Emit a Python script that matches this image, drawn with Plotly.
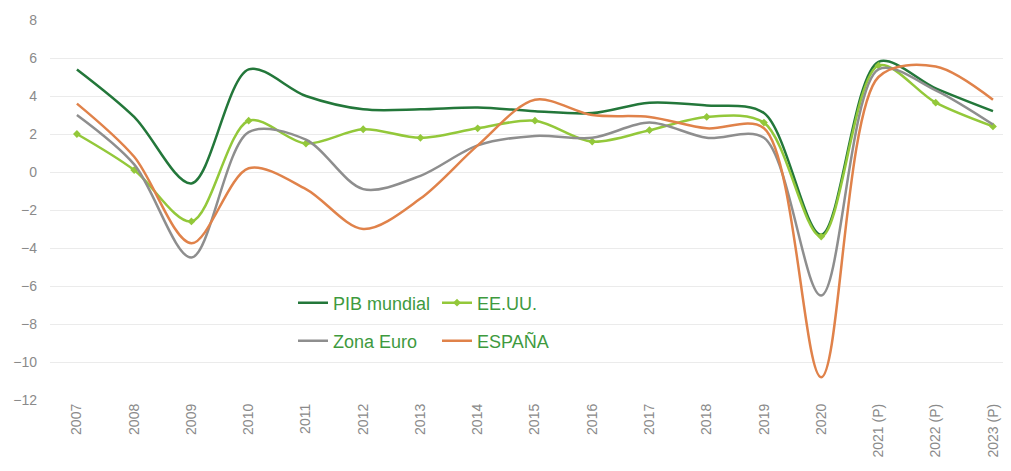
import plotly.graph_objects as go

years = ["2007", "2008", "2009", "2010", "2011", "2012", "2013", "2014", "2015",
         "2016", "2017", "2018", "2019", "2020", "2021 (P)", "2022 (P)", "2023 (P)"]
pib_mundial = [5.4, 2.9, -0.6, 5.4, 4.0, 3.3, 3.3, 3.4, 3.2, 3.1, 3.65, 3.5, 3.1, -3.3, 5.8, 4.4, 3.2]
eeuu = [2.0, 0.1, -2.6, 2.7, 1.5, 2.25, 1.8, 2.3, 2.7, 1.6, 2.2, 2.9, 2.6, -3.4, 5.6, 3.65, 2.4]
zona_euro = [3.0, 0.4, -4.5, 2.1, 1.7, -0.9, -0.2, 1.4, 1.9, 1.8, 2.6, 1.8, 1.8, -6.5, 5.4, 4.3, 2.5]
espana = [3.6, 0.8, -3.75, 0.2, -0.9, -3.0, -1.4, 1.4, 3.8, 3.0, 2.9, 2.3, 2.3, -10.8, 5.0, 5.55, 3.8]

xs = list(range(len(years)))
font = "Liberation Sans, Arial, sans-serif"

fig = go.Figure()
series = [
    ("PIB mundial", pib_mundial, "#23773a", False, "legend"),
    ("EE.UU.", eeuu, "#93c83a", True, "legend"),
    ("Zona Euro", zona_euro, "#8e8e8e", False, "legend2"),
    ("ESPAÑA", espana, "#e0824a", False, "legend2"),
]
for name, vals, color, mk, lg in series:
    fig.add_trace(go.Scatter(
        x=xs, y=vals, name=name,
        mode="lines+markers" if mk else "lines",
        line=dict(color=color, width=2.5, shape="spline", smoothing=0.9),
        marker=dict(size=6, color=color, symbol="diamond"),
        legend=lg,
    ))

OFF = 8  # page body margin
L, T, PW, PH = 50 - OFF, 20 - OFF, 955, 380

legend_common = dict(
    orientation="h", xanchor="left", yanchor="middle",
    font=dict(family=font, size=18, color="#3e9a3e"),
    bgcolor="rgba(0,0,0,0)", entrywidth=99, entrywidthmode="pixels",
    itemwidth=30, tracegroupgap=0,
)

lx = (293 - OFF - L) / PW
fig.update_layout(
    width=1011, height=471,
    margin=dict(l=L, r=1011 - L - PW, t=T, b=471 - T - PH, autoexpand=False),
    paper_bgcolor="white", plot_bgcolor="white",
    showlegend=True,
    legend=dict(x=lx, y=1 - (303 - OFF - T) / PH, **legend_common),
    legend2=dict(x=lx, y=1 - (341 - OFF - T) / PH, **legend_common),
    xaxis=dict(
        range=[-0.47, 16.21], tickmode="array", tickvals=xs, ticktext=years,
        tickangle=-90, showgrid=False, zeroline=False, showline=False,
        tickfont=dict(family=font, size=14, color="#8a8a8a"), ticks="",
        automargin=False,
    ),
    yaxis=dict(
        range=[-12, 8], dtick=2, tick0=0, showgrid=True, gridcolor="#ebebeb",
        gridwidth=1, zeroline=False, showline=False, ticks="",
        tickfont=dict(family=font, size=14, color="#8a8a8a"),
        ticklabelstandoff=12, automargin=False,
    ),
)

fig.write_html("out.html")
